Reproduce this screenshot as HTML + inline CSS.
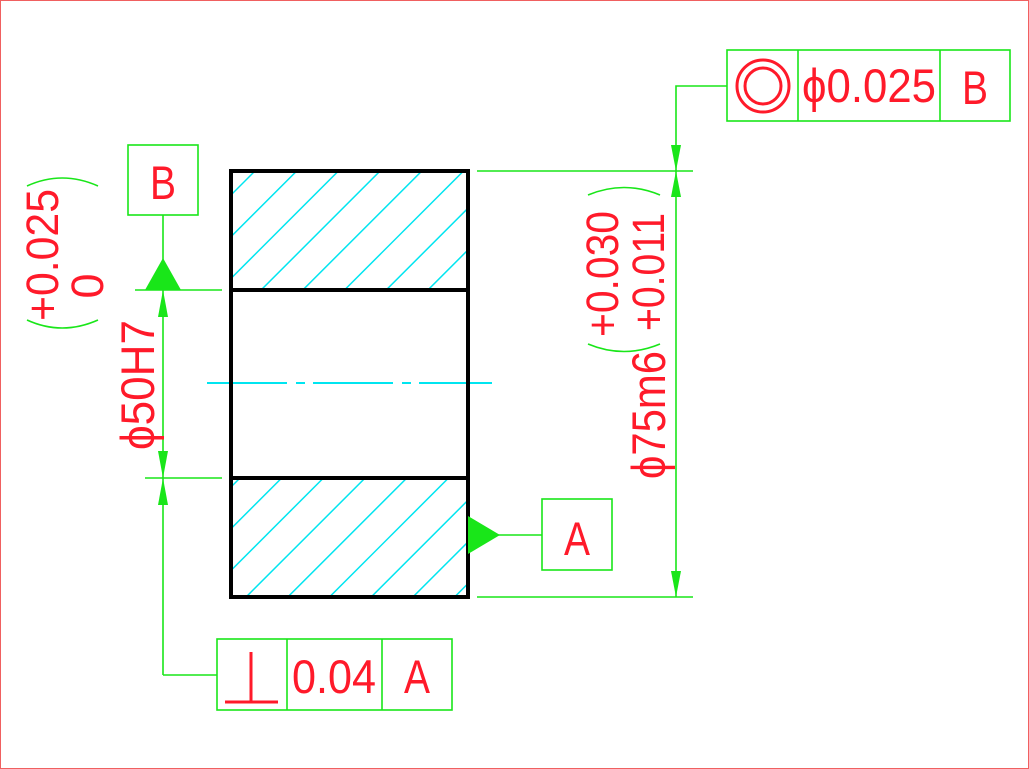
<!DOCTYPE html>
<html><head><meta charset="utf-8"><style>
html,body{margin:0;padding:0;background:#fff;overflow:hidden;width:1029px;height:769px}
svg{display:block;position:absolute;left:0;top:0}
text{font-family:"Liberation Sans",sans-serif;fill:#ff1a2a}
</style></head><body>
<svg width="1029" height="769" viewBox="0 0 1029 769" xmlns="http://www.w3.org/2000/svg">
<rect x="0.5" y="0.5" width="1028" height="768" fill="#fff" stroke="#f06060" stroke-width="1"/>
<defs>
<clipPath id="ct"><rect x="231" y="171" width="237" height="119"/></clipPath>
<clipPath id="cb"><rect x="231" y="478" width="237" height="119"/></clipPath>
</defs>
<g stroke="#00e5f0" stroke-width="1.5">
<g clip-path="url(#ct)">
<line x1="0" y1="426" x2="426" y2="0"/><line x1="0" y1="467.7" x2="467.7" y2="0"/><line x1="0" y1="509.4" x2="509.4" y2="0"/><line x1="0" y1="551.1" x2="551.1" y2="0"/><line x1="0" y1="592.8" x2="592.8" y2="0"/><line x1="0" y1="634.5" x2="634.5" y2="0"/><line x1="0" y1="676.2" x2="676.2" y2="0"/><line x1="0" y1="717.9" x2="717.9" y2="0"/><line x1="0" y1="759.6" x2="759.6" y2="0"/><line x1="0" y1="801.3" x2="801.3" y2="0"/>
</g>
<g clip-path="url(#cb)">
<line x1="0" y1="718" x2="718" y2="0"/><line x1="0" y1="759.7" x2="759.7" y2="0"/><line x1="0" y1="801.4" x2="801.4" y2="0"/><line x1="0" y1="843.1" x2="843.1" y2="0"/><line x1="0" y1="884.8" x2="884.8" y2="0"/><line x1="0" y1="926.5" x2="926.5" y2="0"/><line x1="0" y1="968.2" x2="968.2" y2="0"/><line x1="0" y1="1009.9" x2="1009.9" y2="0"/><line x1="0" y1="1051.6" x2="1051.6" y2="0"/><line x1="0" y1="1093.3" x2="1093.3" y2="0"/>
</g>
<path d="M207 383H287M296 383H305M313 383H393M402 383H411M419 383H492" stroke-width="2"/>
</g>
<g stroke="#000" stroke-width="4" fill="none">
<rect x="231" y="171" width="237" height="426"/>
<line x1="231" y1="290" x2="468" y2="290"/>
<line x1="231" y1="478" x2="468" y2="478"/>
</g>
<g stroke="#19e619" stroke-width="1.6" fill="none">
<rect x="128" y="145" width="70" height="70"/>
<line x1="163" y1="215" x2="163" y2="290"/>
<line x1="135" y1="290" x2="222" y2="290"/>
<line x1="145" y1="478" x2="222" y2="478"/>
<line x1="163" y1="290" x2="163" y2="675"/>
<polyline points="163,675 217,675"/>
<rect x="217" y="639" width="235" height="71"/>
<line x1="287" y1="639" x2="287" y2="710"/>
<line x1="382" y1="639" x2="382" y2="710"/>
<path d="M27 186Q62 170 98 186M27 320Q62 336 98 320"/>
<line x1="468" y1="535" x2="542" y2="535"/>
<rect x="542" y="499" width="70" height="71"/>
<rect x="727" y="50" width="283" height="71"/>
<line x1="798" y1="50" x2="798" y2="121"/>
<line x1="940" y1="50" x2="940" y2="121"/>
<polyline points="727,86 676,86 676,597"/>
<line x1="477" y1="171" x2="693" y2="171"/>
<line x1="477" y1="597" x2="693" y2="597"/>
<path d="M588 195Q624 180 660 195M588 344Q624 359 660 344"/>
</g>
<g fill="#19e619">
<polygon points="145,290 181,290 163,258"/>
<polygon points="163,290 158,317 168,317"/>
<polygon points="163,478 158,451 168,451"/>
<polygon points="163,478 158,505 168,505"/>
<polygon points="468,516 468,554 500,535"/>
<polygon points="676,171 671,145 681,145"/>
<polygon points="676,171 671,197 681,197"/>
<polygon points="676,597 671,571 681,571"/>
</g>
<g stroke="#ff1a2a" stroke-width="3" fill="none">
<line x1="251" y1="652" x2="251" y2="702"/>
<line x1="225" y1="702" x2="278" y2="702"/>
<circle cx="763" cy="86" r="26"/>
<circle cx="763" cy="86" r="18"/>
</g>
<text x="163" y="199" font-size="47" text-anchor="middle" textLength="26" lengthAdjust="spacingAndGlyphs">B</text>
<text x="577" y="555" font-size="47" text-anchor="middle" textLength="26" lengthAdjust="spacingAndGlyphs">A</text>
<text x="417" y="693" font-size="47" text-anchor="middle" textLength="26" lengthAdjust="spacingAndGlyphs">A</text>
<text x="334" y="693" font-size="47" text-anchor="middle" textLength="84" lengthAdjust="spacingAndGlyphs">0.04</text>
<text x="869" y="102" font-size="47" text-anchor="middle" textLength="134" lengthAdjust="spacingAndGlyphs">ϕ0.025</text>
<text x="975" y="104" font-size="47" text-anchor="middle" textLength="26" lengthAdjust="spacingAndGlyphs">B</text>
<text transform="translate(154,385) rotate(-90)" font-size="47" text-anchor="middle" textLength="130" lengthAdjust="spacingAndGlyphs">ϕ50H7</text>
<text transform="translate(58,255) rotate(-90)" font-size="45" text-anchor="middle" textLength="132" lengthAdjust="spacingAndGlyphs">+0.025</text>
<text transform="translate(103,286) rotate(-90)" font-size="45" text-anchor="middle">0</text>
<text transform="translate(665,415) rotate(-90)" font-size="47" text-anchor="middle" textLength="128" lengthAdjust="spacingAndGlyphs">ϕ75m6</text>
<text transform="translate(618,274) rotate(-90)" font-size="45" text-anchor="middle" textLength="126" lengthAdjust="spacingAndGlyphs">+0.030</text>
<text transform="translate(664,272) rotate(-90)" font-size="45" text-anchor="middle" textLength="118" lengthAdjust="spacingAndGlyphs">+0.011</text>
</svg>
</body></html>
